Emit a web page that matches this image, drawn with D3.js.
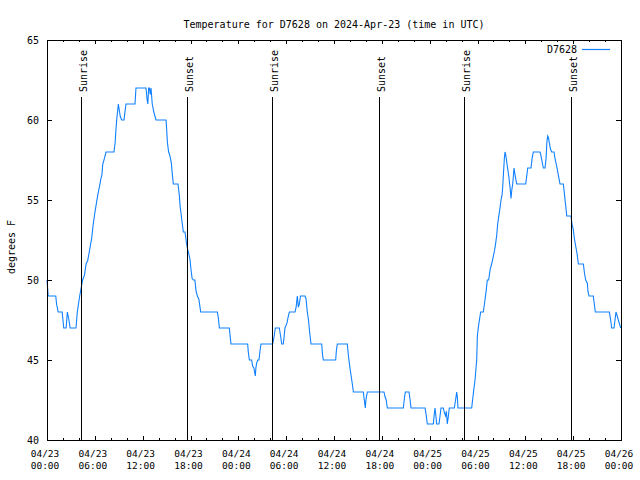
<!DOCTYPE html>
<html>
<head>
<meta charset="utf-8">
<script src="https://cdn.jsdelivr.net/npm/d3@7"></script>
<style>
html,body{margin:0;padding:0;background:#fff;}
svg text{font-family:"DejaVu Sans Mono",monospace;fill:#000;}
</style>
</head>
<body>
<svg id="chart" width="640" height="480"></svg>
<script>
// ---- data (hours since 2024-04-23 00:00 UTC, temperature in °F) ----
const hours = [0.0,0.15,1.1,1.2,1.4,1.9,2.1,2.4,2.55,2.75,2.9,3.64,3.8,4.1,4.47,4.7,4.9,5.1,5.39,5.6,5.8,6.0,6.2,6.4,6.57,6.75,6.9,6.98,7.2,7.4,8.4,8.55,8.65,8.74,8.95,9.1,9.2,9.37,9.66,9.8,9.91,11.04,11.16,12.42,12.55,12.65,12.75,12.85,12.95,13.05,13.2,13.4,13.67,14.93,15.0,15.1,15.26,15.4,15.6,15.72,15.85,16.43,16.6,16.7,16.9,17.1,17.31,17.5,17.6,17.8,17.95,18.05,18.2,18.36,18.55,18.7,18.86,19.05,19.28,21.37,21.5,21.62,22.87,22.95,23.08,25.17,25.25,25.38,25.67,25.8,25.95,26.13,26.2,26.3,26.43,26.59,26.7,26.84,28.31,28.5,28.64,29.14,29.3,29.44,29.64,29.75,29.85,30.1,30.25,30.4,31.11,31.25,31.4,31.53,31.65,31.8,32.36,32.5,32.65,32.8,32.95,33.12,34.46,34.55,34.66,36.21,36.3,36.42,37.67,37.8,38.0,38.15,38.3,38.43,39.68,39.8,39.93,40.0,40.18,42.27,42.4,42.55,42.69,44.7,44.85,44.95,45.41,45.55,45.66,47.42,47.55,47.71,48.46,48.55,48.67,48.78,48.88,49.17,49.3,49.42,49.71,49.85,50.0,50.1,50.21,50.35,50.46,51.09,51.25,51.39,51.47,51.55,53.27,53.5,53.69,53.9,53.98,54.15,54.3,54.4,54.73,54.94,55.1,55.23,55.4,55.6,55.78,55.95,56.12,56.25,56.41,56.53,56.7,56.82,56.95,57.08,57.16,57.25,57.37,57.45,57.55,57.66,57.8,57.92,58.08,58.2,58.32,58.42,58.58,58.7,58.8,58.92,60.05,60.2,60.3,60.71,60.85,61.0,61.84,61.95,62.1,62.26,62.47,62.6,62.7,62.8,62.9,63.0,63.15,63.3,63.6,63.75,63.9,64.05,64.2,64.35,64.77,64.9,65.0,65.1,65.19,65.73,65.85,66.0,66.15,66.25,66.36,66.5,66.65,67.28,67.4,67.57,67.78,67.85,67.99,68.53,68.65,68.78,70.54,70.7,70.83,71.12,71.25,71.37,71.5,71.66,71.96];
const tempF = [50,49,49,48.5,48,48,47,47,48,47.5,47,47,48,49,50,50.3,51,51.2,52,52.6,53.5,54.2,54.8,55.4,55.8,56.3,56.6,57.2,57.6,58,58,58.6,59.4,60,61,60.5,60.2,60,60,60.6,61,61,62,62,61.3,61,62,62,61.6,62,61,60.5,60,60,59.5,58.6,58,57.8,57.3,56.6,56,56,55.3,54.6,53.8,53,53,52.3,52,51.6,51.25,50.7,50.1,50,50,49.3,49,48.8,48,48,47.6,47,47,46.6,46,46,45.5,45,45,44.6,44.5,44,44.5,44.8,45,45,45.5,46,46,46.5,47,47,46.5,46,46,46.5,47,47.3,47.7,48,48,48.3,49,48.3,48.5,49,49,48.8,48,47.5,46.7,46,46,45.4,45,45,45.6,46,46,45.3,44.5,44,43.5,43,43,42.5,42,42.5,43,43,42.7,42.5,42,42,42.7,43,43,42.5,42,42,41.6,41,41,41.5,42,41.5,41,41,41.5,42,42,41.7,41.5,41.8,41,41.5,42,42,42.5,43,42.7,42,42,43,43.75,45,46.5,47.2,47.7,48,48,48.75,49.4,50,50,50.7,51,51.4,51.8,52.2,52.8,53.5,54.1,54.5,55,55.3,55.8,56.6,57.6,58,57.8,57.4,56.9,56.5,55.8,55.1,55.7,56,57,56.6,56.3,56,56,56.6,57,57,57.6,58,58,57.8,57.4,57,57,57.6,58.6,59,58.9,58.6,58.2,58,58,57.5,57.2,56.8,56.4,56,56,55.4,54.9,54.5,54,54,53.5,53.2,52.6,52.3,52,51.6,51,51,50.5,50,49.8,49.3,49,49,48.5,48,48,47.5,47,47,47.5,48,47.8,47.5,47];

const sunTimes  = ["2024-04-23T04:18Z","2024-04-23T17:34Z","2024-04-24T04:16Z","2024-04-24T17:41Z","2024-04-25T04:21Z","2024-04-25T17:46Z"];
const sunLabels = ["Sunrise","Sunset","Sunrise","Sunset","Sunrise","Sunset"];

const yTicks = [40,45,50,55,60,65];
const titleText = "Temperature for D7628 on 2024-Apr-23 (time in UTC)";
const yLabel = "degrees F";
const seriesName = "D7628";

// ---- layout ----
const L = 47, R = 621, T = 40, B = 440;
const start = Date.UTC(2024,3,23,0,0);
const end = Date.UTC(2024,3,26,0,0);
const lineColor = "#1080ff";

const svg = d3.select("#chart");
const x = d3.scaleUtc().domain([new Date(start), new Date(end)]).range([L, R]);
const y = d3.scaleLinear().domain([40, 65]).range([B, T]);

const data = hours.map((h, i) => ({t: new Date(start + h * 3600e3), v: tempF[i]}));

// title
svg.append("text").attr("x", 334).attr("y", 28).attr("text-anchor", "middle")
  .style("font-size", "10px").text(titleText);

// y label
svg.append("text").attr("transform", "translate(15,247) rotate(-90)")
  .attr("text-anchor", "middle").style("font-size", "10px").text(yLabel);

// axes (ticks inward, mirrored)
const majorX = d3.utcHour.every(6).range(new Date(start), new Date(end + 1));
const minorX = d3.utcHour.every(2).range(new Date(start), new Date(end + 1)).filter(d => d.getUTCHours() % 6 !== 0);

const fmtD = d3.utcFormat("%m/%d"), fmtT = d3.utcFormat("%H:%M");

const axB = svg.append("g").attr("transform", `translate(0,${B})`)
  .call(d3.axisBottom(x).tickValues(majorX).tickSize(-4).tickFormat(""));
const axBm = svg.append("g").attr("transform", `translate(0,${B})`)
  .call(d3.axisBottom(x).tickValues(minorX).tickSize(-2).tickFormat(""));
const axT = svg.append("g").attr("transform", `translate(0,${T})`)
  .call(d3.axisTop(x).tickValues(majorX).tickSize(-4).tickFormat(""));
const axTm = svg.append("g").attr("transform", `translate(0,${T})`)
  .call(d3.axisTop(x).tickValues(minorX).tickSize(-2).tickFormat(""));
const axL = svg.append("g").attr("transform", `translate(${L},0)`)
  .call(d3.axisLeft(y).tickValues(yTicks).tickSize(-5).tickPadding(8).tickFormat(d3.format("d")));
const axR = svg.append("g").attr("transform", `translate(${R},0)`)
  .call(d3.axisRight(y).tickValues(yTicks).tickSize(-5).tickFormat(""));

[axB, axBm, axT, axTm, axL, axR].forEach(g => {
  g.select(".domain").remove();
  g.selectAll("line").attr("stroke", "#000").attr("shape-rendering", "crispEdges");
});
axL.selectAll("text").attr("x", -8).attr("dy", "0.32em")
  .style("font-family", '"DejaVu Sans Mono",monospace').style("font-size", "10px");

// x tick labels (two lines)
const xl = svg.append("g");
majorX.forEach(d => {
  const t = xl.append("text").attr("text-anchor", "middle").style("font-size", "9.5px")
    .attr("x", x(d) - 2);
  t.append("tspan").attr("x", x(d) - 2).attr("y", 457).text(fmtD(d));
  t.append("tspan").attr("x", x(d) - 2).attr("y", 469).text(fmtT(d));
});

// line
svg.append("path").datum(data)
  .attr("fill", "none").attr("stroke", lineColor).attr("stroke-width", 1.1)
  .attr("d", d3.line().x(d => x(d.t)).y(d => y(d.v)));

// sunrise/sunset lines
sunTimes.forEach((s, i) => {
  const xx = Math.round(x(new Date(s))) + 0.5;
  svg.append("line").attr("x1", xx).attr("x2", xx).attr("y1", 97).attr("y2", B)
    .attr("stroke", "#000").attr("stroke-width", 1).attr("shape-rendering", "crispEdges");
  svg.append("text").attr("transform", `translate(${xx + 5},92) rotate(-90)`)
    .attr("text-anchor", "start").style("font-size", "10px").text(sunLabels[i]);
});

// frame
svg.append("rect").attr("x", L + 0.5).attr("y", T + 0.5).attr("width", R - L).attr("height", B - T)
  .attr("fill", "none").attr("stroke", "#000").attr("stroke-width", 1).attr("shape-rendering", "crispEdges");

// legend
svg.append("text").attr("x", 577).attr("y", 53).attr("text-anchor", "end")
  .style("font-size", "10px").text(seriesName);
svg.append("line").attr("x1", 582).attr("x2", 610).attr("y1", 49.5).attr("y2", 49.5)
  .attr("stroke", lineColor).attr("stroke-width", 1.2);
</script>
</body>
</html>
